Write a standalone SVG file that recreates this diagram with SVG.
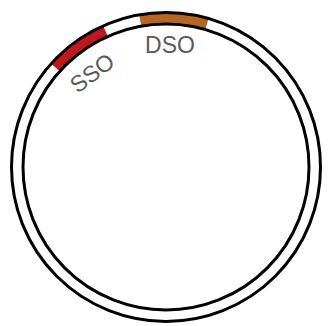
<svg xmlns="http://www.w3.org/2000/svg" width="329" height="326" viewBox="0 0 329 326">
  <style>
    .ring { fill: none; stroke: #000; stroke-width: 3; }
    .feat { fill: none; stroke-width: 10; stroke-linecap: butt; }
    .lbl { font-family: "Liberation Sans", Arial, sans-serif; font-size: 23px; fill: #5a5a5a; text-anchor: middle; }
  </style>
  <rect width="329" height="326" fill="#fff"/>
  <g id="SSO">
    <path class="feat" stroke="#c0161c" d="M 55.5 67.5 A 148.75 148.75 0 0 1 105.5 31.1"/>
    <text class="lbl" transform="translate(92 73) rotate(-37)" x="0" y="8">SSO</text>
  </g>
  <g id="DSO">
    <path class="feat" stroke="#b9651f" d="M 140.2 20.5 A 148.75 148.75 0 0 1 207 24"/>
    <text class="lbl" x="170" y="53">DSO</text>
  </g>
  <g id="backbone">
    <circle class="ring" cx="166" cy="167" r="154.5"/>
    <circle class="ring" cx="166" cy="167" r="143"/>
  </g>
</svg>
